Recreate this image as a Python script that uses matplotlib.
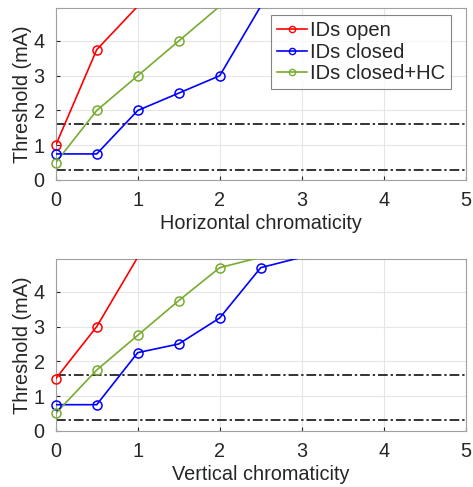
import matplotlib
matplotlib.use("Agg")
import matplotlib.pyplot as plt
from matplotlib.lines import Line2D
import numpy as np

plt.rcParams['font.family'] = ['Liberation Sans', 'DejaVu Sans']

chrom = [0, 0.5, 1, 1.5, 2, 2.5, 3]

# Horizontal chromaticity scan
h_open = [1.0, 3.75, 5.0]
h_closed = [0.75, 0.75, 2.0, 2.5, 3.0, 5.0]
h_closed_hc = [0.5, 2.0, 3.0, 4.0, 5.0]

# Vertical chromaticity scan
v_open = [1.5, 3.0, 5.0]
v_closed = [0.75, 0.75, 2.25, 2.5, 3.25, 4.7, 5.0]
v_closed_hc = [0.5, 1.75, 2.75, 3.75, 4.7, 5.0]

thresholds = [1.6, 0.3]
labels = ['IDs open', 'IDs closed', 'IDs closed+HC']
colors = ['#ff0000', '#0000ff', '#77ac30']
xticks = [0, 1, 2, 3, 4, 5]
yticks = [0, 1, 2, 3, 4]
YTOP = 4.95
txt = '#262626'

fig = plt.figure(figsize=(4.73, 4.87), dpi=100)
ax1 = fig.add_axes([0.1178, 0.6304, 0.8668, 0.3532])
ax2 = fig.add_axes([0.1178, 0.1156, 0.8668, 0.3526])

def draw(ax, series, xlabel, legend):
    for ys, c in zip(series, colors):
        xs = np.array(chrom[:len(ys)])
        ys = np.array(ys)
        ax.plot(xs, ys, color=c, lw=1.2, zorder=3)
        m = ys < YTOP
        ax.plot(xs[m], ys[m], ls='none', marker='o', ms=6.5, mfc='none',
                mec=c, mew=1.1, zorder=4, clip_on=False)
    for t in thresholds:
        ax.axhline(t, color='#333333', lw=1.4, ls=(0, (5, 1.5, 1.2, 1.5)), zorder=2)
    ax.set_xlim(0, 5)
    ax.set_ylim(0, YTOP)
    ax.set_xticks(xticks)
    ax.set_yticks(yticks)
    ax.grid(True, color='#e6e6e6', lw=0.8, zorder=0)
    ax.set_axisbelow(True)
    ax.tick_params(direction='in', length=3, labelsize=14.3, colors=txt, pad=8)
    for s in ax.spines.values():
        s.set_color('#a0a0a0')
        s.set_linewidth(0.8)
    ax.set_xlabel(xlabel, fontsize=14.3, color=txt, labelpad=3)
    ax.set_ylabel('Threshold (mA)', fontsize=14.3, color=txt, labelpad=1)
    if legend:
        handles = [Line2D([0], [0], color=c, lw=1.2, marker='o', ms=4.5,
                          mfc='none', mec=c, mew=1.0) for c in colors]
        leg = ax.legend(handles, labels, loc='upper right',
                        bbox_to_anchor=(0.964, 0.959), borderaxespad=0,
                        fontsize=14.5, frameon=True, fancybox=False,
                        edgecolor='#666666', handlelength=1.5,
                        handletextpad=0.15, borderpad=0.3,
                        labelspacing=0.13)
        leg.get_frame().set_linewidth(0.8)
        for t in leg.get_texts():
            t.set_color(txt)

draw(ax1, [h_open, h_closed, h_closed_hc], 'Horizontal chromaticity', True)
draw(ax2, [v_open, v_closed, v_closed_hc], 'Vertical chromaticity', False)

fig.savefig('out.png', dpi=100)
